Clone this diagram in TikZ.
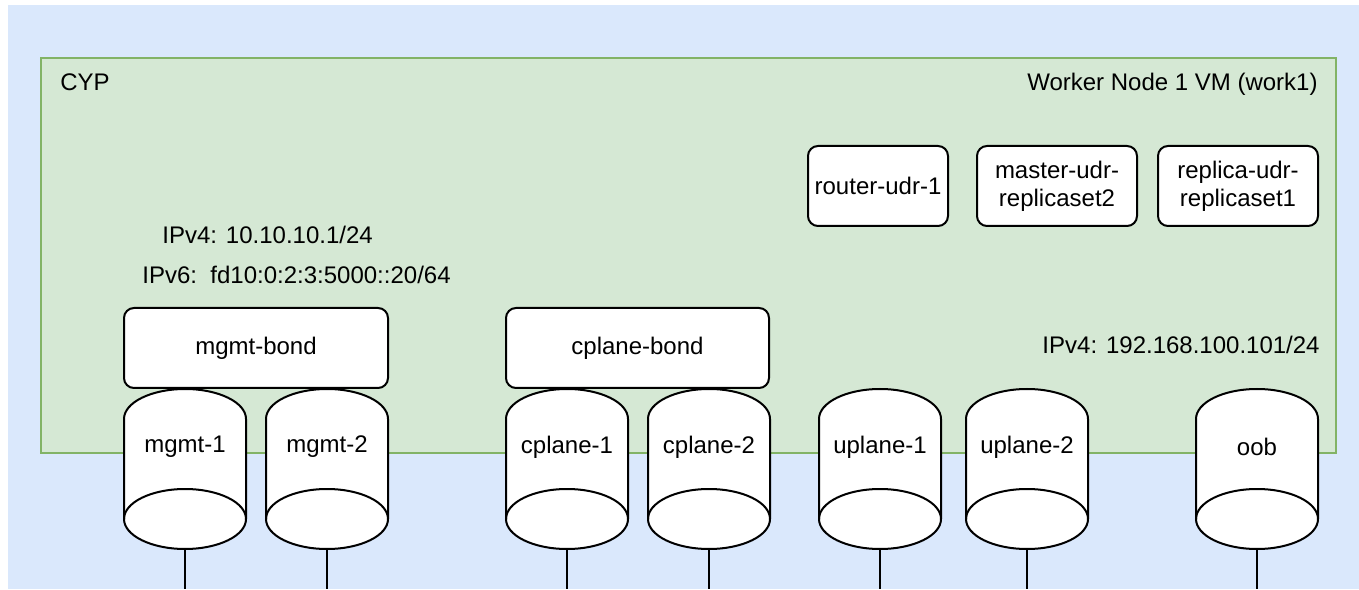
\documentclass[tikz,border=0pt]{standalone}
\usepackage{fontspec}
\setmainfont{Liberation Sans}
\definecolor{bgblue}{HTML}{DAE8FC}
\definecolor{vmfill}{HTML}{D5E8D4}
\definecolor{vmline}{HTML}{82B366}
\tikzset{
  txtstyle/.style={font=\fontsize{12}{14}\selectfont, text=black, inner sep=0pt},
  podbox/.style={draw=black, line width=1pt, fill=white, rounded corners=5pt, minimum height=40pt, align=center, font=\fontsize{12}{14}\selectfont, inner sep=0pt},
  bondbox/.style={draw=black, line width=1pt, fill=white, rounded corners=5pt, minimum height=40pt, font=\fontsize{12}{14}\selectfont, inner sep=0pt},
  cylbox/.style={minimum width=61pt, minimum height=80pt, inner sep=0pt, outer sep=0pt},
  shp/.style={draw=black, line width=1pt, fill=white},
  wire/.style={draw=black, line width=1pt},
}
\newcommand\drawcyl[3]{%
  \node[cylbox] (#1) at (#2,120) {};
  \path[shp] ([yshift=-15pt]#1.north west) -- ([yshift=15pt]#1.south west)
    arc[start angle=180,end angle=360,x radius=30.5pt,y radius=15pt]
    -- ([yshift=-15pt]#1.north east)
    arc[start angle=0,end angle=180,x radius=30.5pt,y radius=15pt] -- cycle;
  \draw[line width=1pt] ([yshift=15pt]#1.south west)
    arc[start angle=180,end angle=0,x radius=30.5pt,y radius=15pt];
  \node[txtstyle] (#1-label) at ([yshift=11pt]#1.center) {#3};
  \coordinate (#1-end) at (#2,0);
  \draw[wire] (#1.south) -- (#1-end);
}
\begin{document}
\begin{tikzpicture}[x=0.5pt,y=0.5pt]
\useasboundingbox (0,0) rectangle (1359,589);
\fill[white] (0,0) rectangle (1359,589);
\fill[bgblue] (8,0) rectangle (1359,584);
\node[draw=vmline, fill=vmfill, line width=0.8pt, minimum width=647.5pt, minimum height=197.5pt, inner sep=0pt, anchor=south west] (vm) at (40,135) {};
\node[txtstyle, anchor=west] (cyp) at (60,507) {CYP};
\node[txtstyle, anchor=east] (vmtitle) at (1318,505) {Worker Node 1 VM (work1)};
% pods
\node[podbox, minimum width=70pt] (router) at (878,403) {router-udr-1};
\node[podbox, minimum width=80pt] (master) at (1057,403) {master-udr-\\replicaset2};
\node[podbox, minimum width=80pt] (replica) at (1238,403) {replica-udr-\\replicaset1};
% addresses
\node[txtstyle, anchor=west] (ip4a) at (162,354) {IPv4: 10.10.10.1/24};
\node[txtstyle, anchor=west] (ip6a) at (142,314) {IPv6:\ \ fd10:0:2:3:5000::20/64};
\node[txtstyle, anchor=east] (ip4b) at (1320,244) {IPv4: 192.168.100.101/24};
% bonds
\node[bondbox, minimum width=132pt] (mgmtbond) at (256,241) {mgmt-bond};
\node[bondbox, minimum width=131.5pt] (cplanebond) at (637.5,241) {cplane-bond};
% interfaces
\drawcyl{mgmt1}{185}{mgmt-1}
\drawcyl{mgmt2}{327}{mgmt-2}
\drawcyl{cplane1}{567}{cplane-1}
\drawcyl{cplane2}{709}{cplane-2}
\drawcyl{uplane1}{880}{uplane-1}
\drawcyl{uplane2}{1027}{uplane-2}
\drawcyl{oob}{1257}{oob}
\end{tikzpicture}
\end{document}
